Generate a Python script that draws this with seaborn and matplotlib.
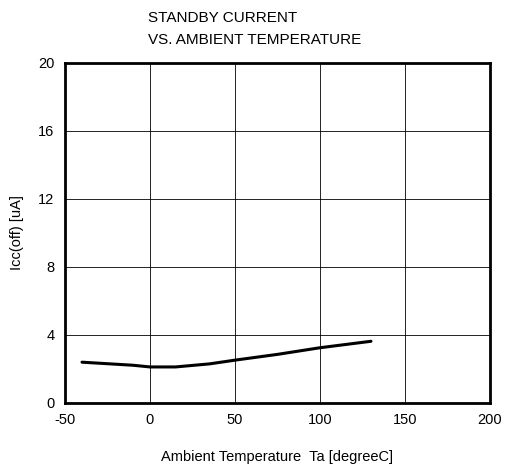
import matplotlib
matplotlib.use("Agg")
import matplotlib.pyplot as plt
import seaborn as sns
import pandas as pd

temps = [-40, -10, 0, 15, 35, 50, 75, 100, 130]
icc = [2.4, 2.22, 2.12, 2.12, 2.3, 2.52, 2.86, 3.25, 3.63]
x_ticks = [-50, 0, 50, 100, 150, 200]
y_ticks = [0, 4, 8, 12, 16, 20]

sns.set_style("white")
plt.rcParams['font.family'] = ['Liberation Sans', 'DejaVu Sans']
plt.rcParams['axes.unicode_minus'] = False
plt.rcParams['text.color'] = 'black'
plt.rcParams['axes.labelcolor'] = 'black'

df = pd.DataFrame({"Ta": temps, "Icc": icc})

fig = plt.figure(figsize=(5.05, 4.71), dpi=100)
ax = fig.add_axes([0.1287, 0.1444, 0.8416, 0.7219])
sns.lineplot(data=df, x="Ta", y="Icc", ax=ax, color="black", linewidth=2.2)

ax.set_xlim(-50, 200)
ax.set_ylim(0, 20)
ax.set_xticks(x_ticks)
ax.set_yticks(y_ticks)
ax.grid(True, color="black", linewidth=0.6)
for s in ax.spines.values():
    s.set_linewidth(2)
    s.set_color("black")
ax.tick_params(axis="both", direction="out", length=4, width=1, labelsize=10.5, colors="black")
ax.set_xlabel("Ambient Temperature  Ta [degreeC]", fontsize=10.5, labelpad=16, color="black")
ax.set_ylabel("Icc(off) [uA]", fontsize=10.5, labelpad=10, color="black")
fig.text(148/505, 1 - 18/471, "STANDBY CURRENT", fontsize=11, va="center", ha="left", color="black")
fig.text(148/505, 1 - 40/471, "VS. AMBIENT TEMPERATURE", fontsize=11, va="center", ha="left", color="black")

fig.savefig("out.png", dpi=100)
